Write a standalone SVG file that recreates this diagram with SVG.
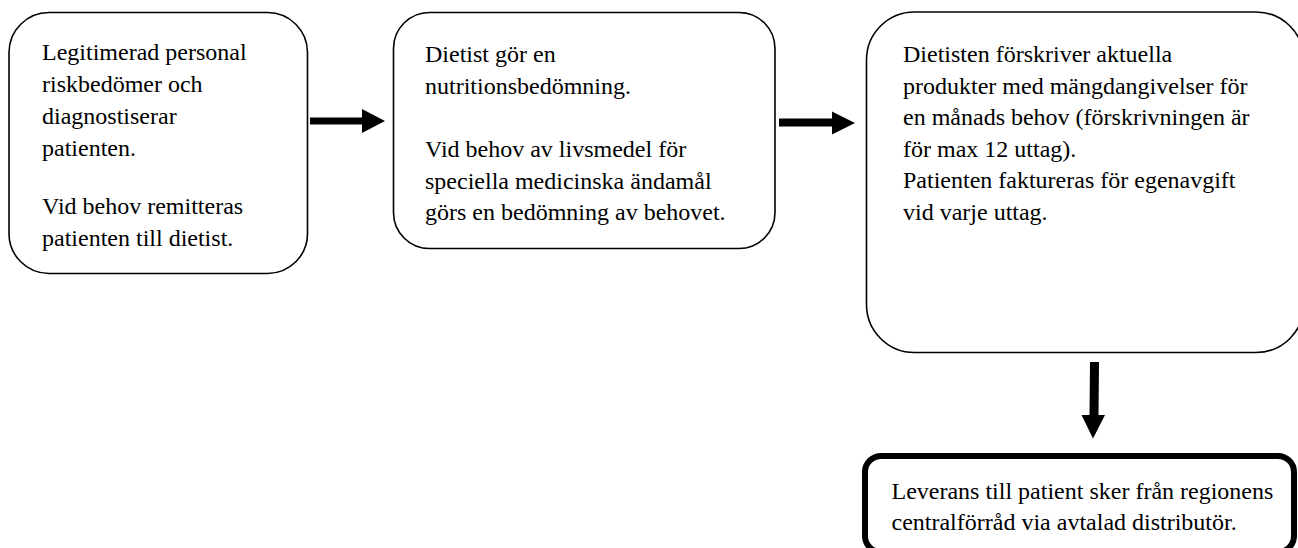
<svg xmlns="http://www.w3.org/2000/svg" width="1298" height="548" viewBox="0 0 1298 548">
<style>
.box{fill:#fff;stroke:#000;stroke-width:1.6}
.thick{fill:#fff;stroke:#000;stroke-width:6}
.t{font-family:"Liberation Serif","Times New Roman",serif;font-size:24px;fill:#000}
.arr{fill:#000;stroke:none}
</style>
<rect width="1298" height="548" fill="#fff"/>
<g id="node1">
<rect class="box" x="9" y="12.5" width="298.5" height="261" rx="40" ry="40"/>
<text class="t" x="42" y="60">Legitimerad personal</text>
<text class="t" x="42" y="92">riskbedömer och</text>
<text class="t" x="42" y="124">diagnostiserar</text>
<text class="t" x="42" y="156">patienten.</text>
<text class="t" x="42" y="214">Vid behov remitteras</text>
<text class="t" x="42" y="246">patienten till dietist.</text>
</g>
<g id="node2">
<rect class="box" x="393.5" y="12.5" width="381.5" height="236" rx="36" ry="36"/>
<text class="t" x="425" y="62">Dietist gör en</text>
<text class="t" x="425" y="94">nutritionsbedömning.</text>
<text class="t" x="425" y="157">Vid behov av livsmedel för</text>
<text class="t" x="425" y="188.5">speciella medicinska ändamål</text>
<text class="t" x="425" y="220">görs en bedömning av behovet.</text>
</g>
<g id="node3">
<rect class="box" x="866.5" y="12" width="437.5" height="340.5" rx="48" ry="48"/>
<text class="t" x="903" y="62">Dietisten förskriver aktuella</text>
<text class="t" x="903" y="93.5">produkter med mängdangivelser för</text>
<text class="t" x="903" y="125">en månads behov (förskrivningen är</text>
<text class="t" x="903" y="156.5">för max 12 uttag).</text>
<text class="t" x="903" y="188">Patienten faktureras för egenavgift</text>
<text class="t" x="903" y="219.5">vid varje uttag.</text>
</g>
<g id="node4">
<rect class="thick" x="865" y="456" width="429" height="96" rx="16" ry="16"/>
<text class="t" x="891.5" y="499">Leverans till patient sker från regionens</text>
<text class="t" x="891.5" y="530">centralförråd via avtalad distributör.</text>
</g>
<g id="connectors">
<polygon class="arr" points="310,117.5 362,117.5 362,109 385,121 362,133 362,124.5 310,124.5"/>
<polygon class="arr" points="779,118.5 832,118.5 832,111.5 855,123 832,134.5 832,126.5 779,126.5"/>
<polygon class="arr" points="1090,362 1099,362 1098.5,415 1105,415 1093,438.5 1081.5,415 1089.5,415"/>
</g>
</svg>
